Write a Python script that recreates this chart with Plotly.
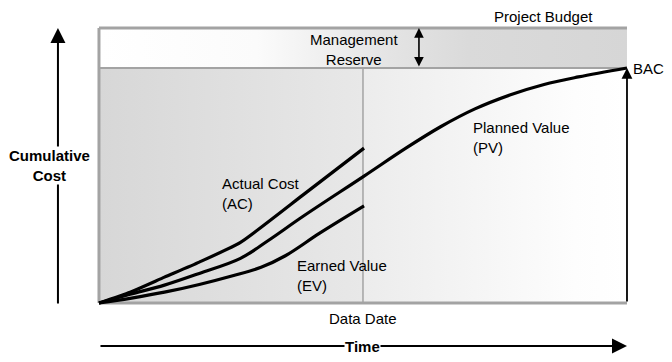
import plotly.graph_objects as go

# ---- data (time in % of schedule, cost in % of BAC) ----
pv_time = [0, 5.9, 12.4, 19.0, 26.8, 32.0, 38.6, 50.2, 58.2, 64.7, 71.2, 77.8, 84.3, 90.8, 100]
pv_cost = [0, 3.7, 7.6, 12.6, 19.0, 26.5, 36.8, 54.0, 66.0, 75.0, 82.6, 88.5, 93.0, 96.2, 100]

ac_time = [0, 5.9, 12.4, 19.0, 26.8, 38.6, 50.2]
ac_cost = [0, 4.6, 11.0, 17.4, 25.8, 45.9, 65.9]

ev_time = [0, 5.9, 12.4, 19.0, 25.5, 30.7, 35.3, 41.8, 50.2]
ev_cost = [0, 2.0, 4.6, 7.9, 11.7, 15.2, 20.1, 29.7, 41.3]

data_date = 50
bac = 100
project_budget = 117
end_time = 100

FONT = "Liberation Sans, Arial, sans-serif"

fig = go.Figure()

# background regions with gradients
fig.add_trace(go.Scatter(
    x=[0, end_time, end_time, 0, 0], y=[bac, bac, project_budget, project_budget, bac],
    fill="toself", mode="none", hoverinfo="skip", showlegend=False,
    fillgradient=dict(type="horizontal",
                      colorscale=[[0, "#ffffff"], [0.3, "#fbfbfb"], [0.55, "#e4e4e4"],
                                  [0.7, "#dadada"], [1, "#d6d6d6"]])))
fig.add_trace(go.Scatter(
    x=[0, data_date, data_date, 0, 0], y=[0, 0, bac, bac, 0],
    fill="toself", mode="none", hoverinfo="skip", showlegend=False,
    fillgradient=dict(type="horizontal", colorscale=[[0, "#d7d7d7"], [1, "#e8e8e8"]])))
fig.add_trace(go.Scatter(
    x=[data_date, end_time, end_time, data_date, data_date], y=[0, 0, bac, bac, 0],
    fill="toself", mode="none", hoverinfo="skip", showlegend=False,
    fillgradient=dict(type="horizontal", colorscale=[[0, "#ececec"], [0.8, "#fdfdfd"], [1, "#ffffff"]])))

# frame lines
gray = "#a3a3a3"
fig.add_trace(go.Scatter(x=[0, end_time], y=[project_budget, project_budget], mode="lines",
                         line=dict(color=gray, width=3), hoverinfo="skip", showlegend=False))
fig.add_trace(go.Scatter(x=[0, 0], y=[0, project_budget], mode="lines",
                         line=dict(color=gray, width=3), hoverinfo="skip", showlegend=False))
fig.add_trace(go.Scatter(x=[0, end_time], y=[0, 0], mode="lines",
                         line=dict(color=gray, width=3), hoverinfo="skip", showlegend=False))
fig.add_trace(go.Scatter(x=[0, end_time], y=[bac, bac], mode="lines",
                         line=dict(color=gray, width=2), hoverinfo="skip", showlegend=False))
fig.add_trace(go.Scatter(x=[data_date, data_date], y=[0, bac], mode="lines",
                         line=dict(color=gray, width=1.5), hoverinfo="skip", showlegend=False))

# curves
for xs, ys, sm in [(pv_time, pv_cost, 1.0), (ac_time, ac_cost, 0.5), (ev_time, ev_cost, 1.0)]:
    fig.add_trace(go.Scatter(x=xs, y=ys, mode="lines",
                             line=dict(color="black", width=3.2, shape="spline", smoothing=sm),
                             hoverinfo="skip", showlegend=False))

annotations = []

def arrow(x, y, ax, ay, side="end", width=2, size=1.0):
    annotations.append(dict(x=x, y=y, ax=ax, ay=ay, xref="x", yref="y", axref="x", ayref="y",
                            text="", showarrow=True, arrowhead=2, arrowside=side, arrowwidth=width,
                            arrowsize=size, arrowcolor="black", standoff=0, startstandoff=0))

# BAC vertical arrow
arrow(end_time, bac, end_time, 0, width=1.8, size=1.2)
# management reserve double arrow
arrow(60.6, project_budget, 60.6, bac, side="end+start", width=1.6, size=1.2)
# cumulative cost axis arrow
arrow(-7.77, project_budget, -7.77, -0.8, width=2, size=1.5)
# time axis arrow
arrow(end_time, -18.3, 0, -18.3, width=2, size=1.5)

def text(t, x, y, xanchor="center", align="center", bold=False, bg=None):
    d = dict(x=x, y=y, xref="x", yref="y", text=t, showarrow=False, xanchor=xanchor, yanchor="middle",
             align=align, font=dict(family=FONT, size=15, color="black"), borderpad=0)
    if bold:
        d["text"] = "<b>" + t.replace("<br>", "</b><br><b>") + "</b>"
    if bg:
        d["bgcolor"] = bg
    annotations.append(d)

text("Project Budget", 84.1, 121.8)
text("Management<br>Reserve", 48.3, 107.9)
text("BAC", 101.0, 100, xanchor="left")
text("Actual Cost<br>(AC)", 23.2, 46.6, xanchor="left", align="left")
text("Earned Value<br>(EV)", 37.4, 11.5, xanchor="left", align="left")
text("Planned Value<br>(PV)", 70.7, 70.4, xanchor="left", align="left")
text("Data Date", 50, -6.5)
text("Cumulative<br>Cost", -9.4, 58.7, bold=True, bg="white")
text("Time", 50, -18.3, bold=True, bg="white")

fig.update_layout(
    width=672, height=362, autosize=False,
    margin=dict(l=0, r=0, t=0, b=0),
    paper_bgcolor="white", plot_bgcolor="white",
    xaxis=dict(range=[-17.23, 110.04], visible=False, fixedrange=True),
    yaxis=dict(range=[-28.51, 125.53], visible=False, fixedrange=True),
    annotations=annotations,
    showlegend=False,
)

fig.write_html("out.html")
